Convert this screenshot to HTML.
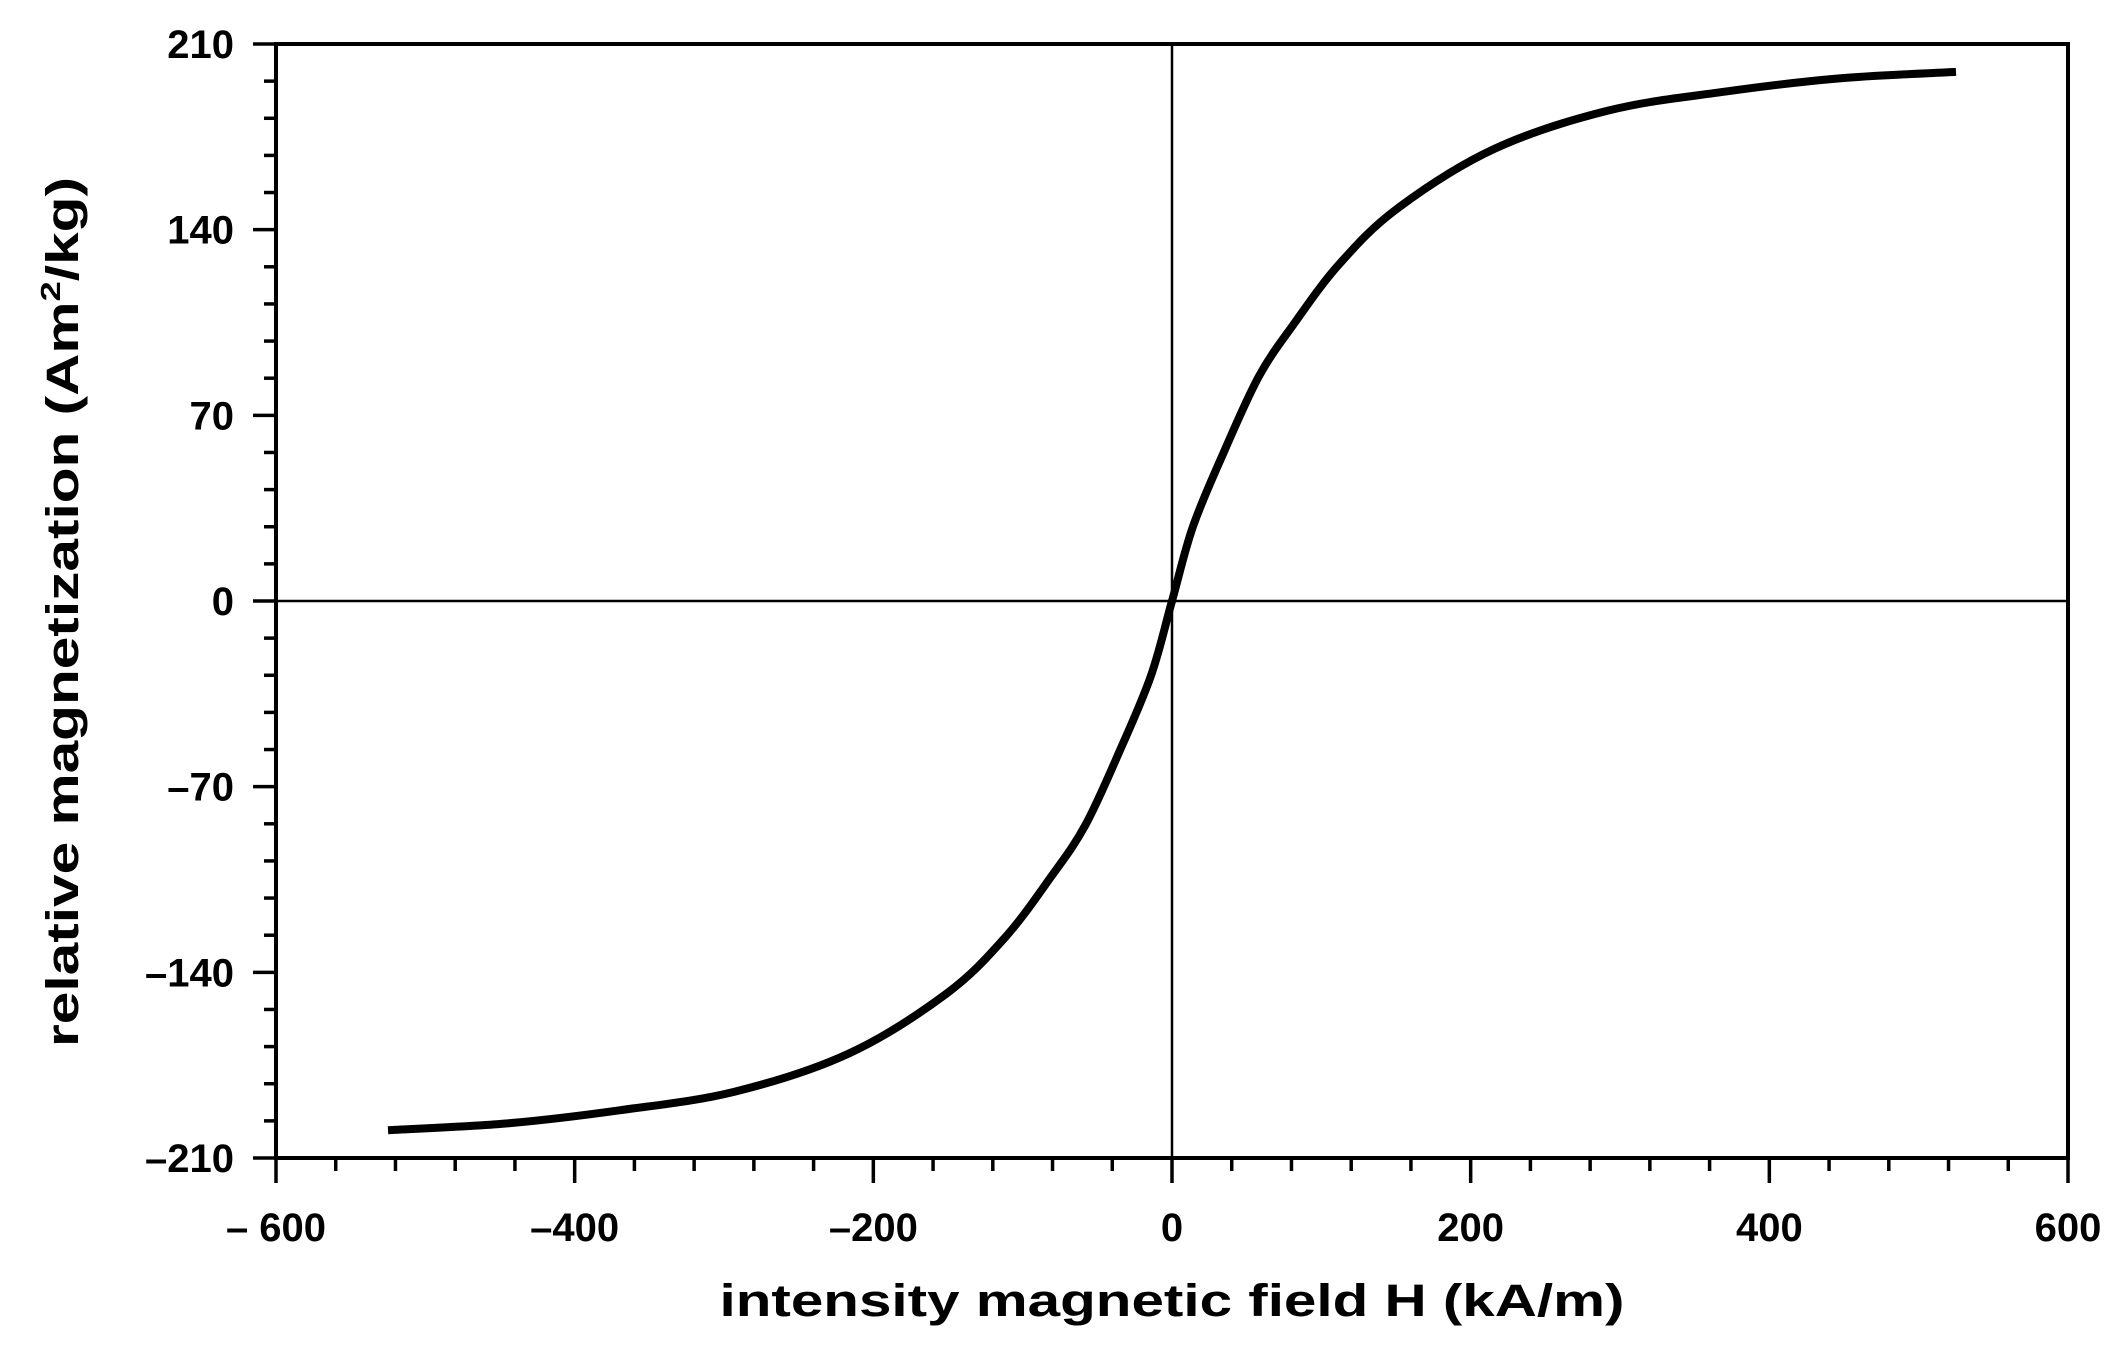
<!DOCTYPE html>
<html><head><meta charset="utf-8"><style>
html,body{margin:0;padding:0;background:#fff;}
svg{display:block;font-family:"Liberation Sans",Arial,sans-serif;font-weight:bold;}
</style></head><body>
<svg id="chart" width="2117" height="1348" viewBox="0 0 2117 1348" xmlns="http://www.w3.org/2000/svg">
<g id="axes"></g>
<g id="series"></g>
<text x="1172" y="1316" font-size="45" text-anchor="middle" textLength="905" lengthAdjust="spacingAndGlyphs">intensity magnetic field H (kA/m)</text>
<text transform="translate(78,612) rotate(-90)" font-size="45" text-anchor="middle" textLength="870" lengthAdjust="spacingAndGlyphs">relative magnetization (Am<tspan dy="-18" font-size="28">2</tspan><tspan dy="18">/kg)</tspan></text>
</svg>
<script>
const xTicks = [-600,-400,-200,0,200,400,600];
const xTickLabels = ["\u2013 600","\u2013400","\u2013200","0","200","400","600"];
const yTicks = [210,140,70,0,-70,-140,-210];
const yTickLabels = ["210","140","70","0","\u201370","\u2013140","\u2013210"];
const fieldH = [-525,-446,-370,-293,-216,-151,-112,-81,-58,-35,-14,0,14,35,58,81,112,151,216,293,370,446,525];
const magM = [-199.5,-197,-192,-185,-170.5,-148,-127,-104,-84.5,-56.5,-28,0,28,56.5,84.5,104,127,148,170.5,185,192,197,199.5];

const L=276,R=2068,T=44,B=1158;
const xMin=-600,xMax=600,yMin=-210,yMax=210;
const sx=v=>L+(v-xMin)/(xMax-xMin)*(R-L);
const sy=v=>B-(v-yMin)/(yMax-yMin)*(B-T);
const NS="http://www.w3.org/2000/svg";
const axes=document.getElementById('axes');
function mk(tag,attrs,parent){const e=document.createElementNS(NS,tag);for(const k in attrs)e.setAttribute(k,attrs[k]);parent.appendChild(e);return e;}

let frame=mk('rect',{x:L,y:T,width:R-L,height:B-T,fill:'none',stroke:'#000','stroke-width':4},axes);


let zv=mk('line',{x1:sx(0),x2:sx(0),y1:T,y2:B,stroke:'#000','stroke-width':2.5},axes);


let zh=mk('line',{x1:L,x2:R,y1:sy(0),y2:sy(0),stroke:'#000','stroke-width':2.5},axes);



for(let v=xMin;v<=xMax;v+=40){
  const major=(v%200===0);
  let t=mk('line',{x1:sx(v),x2:sx(v),y1:B,y2:B+(major?25:13),stroke:'#000','stroke-width':3.5},axes);
  
  
}
xTicks.forEach((v,i)=>{
  let t=mk('text',{x:sx(v),y:1241,'font-size':40,'text-anchor':'middle'},axes);
  t.textContent=xTickLabels[i];
  
  
});
for(let v=yMin;v<=yMax;v+=14){
  const major=(Math.abs(v)%70===0);
  let t=mk('line',{x1:L-(major?23:12),x2:L,y1:sy(v),y2:sy(v),stroke:'#000','stroke-width':3.5},axes);
  
  
}
yTicks.forEach((v,i)=>{
  let t=mk('text',{x:234,y:sy(v)+14,'font-size':40,'text-anchor':'end'},axes);
  t.textContent=yTickLabels[i];
  
  
});
// smooth curve (Catmull-Rom)
const series=document.getElementById('series');
const P=fieldH.map((h,i)=>[sx(h),sy(magM[i])]);
let d='M'+P[0][0].toFixed(1)+','+P[0][1].toFixed(1);
for(let i=0;i<P.length-1;i++){
  const p0=P[Math.max(0,i-1)],p1=P[i],p2=P[i+1],p3=P[Math.min(P.length-1,i+2)];
  const c1=[p1[0]+(p2[0]-p0[0])/6,p1[1]+(p2[1]-p0[1])/6];
  const c2=[p2[0]-(p3[0]-p1[0])/6,p2[1]-(p3[1]-p1[1])/6];
  d+=' C'+c1.map(n=>n.toFixed(1)).join(',')+' '+c2.map(n=>n.toFixed(1)).join(',')+' '+p2.map(n=>n.toFixed(1)).join(',');
}
let c=mk('path',{d:d,fill:'none',stroke:'#000','stroke-width':8,'stroke-linejoin':'round'},series);


</script>
</body></html>
